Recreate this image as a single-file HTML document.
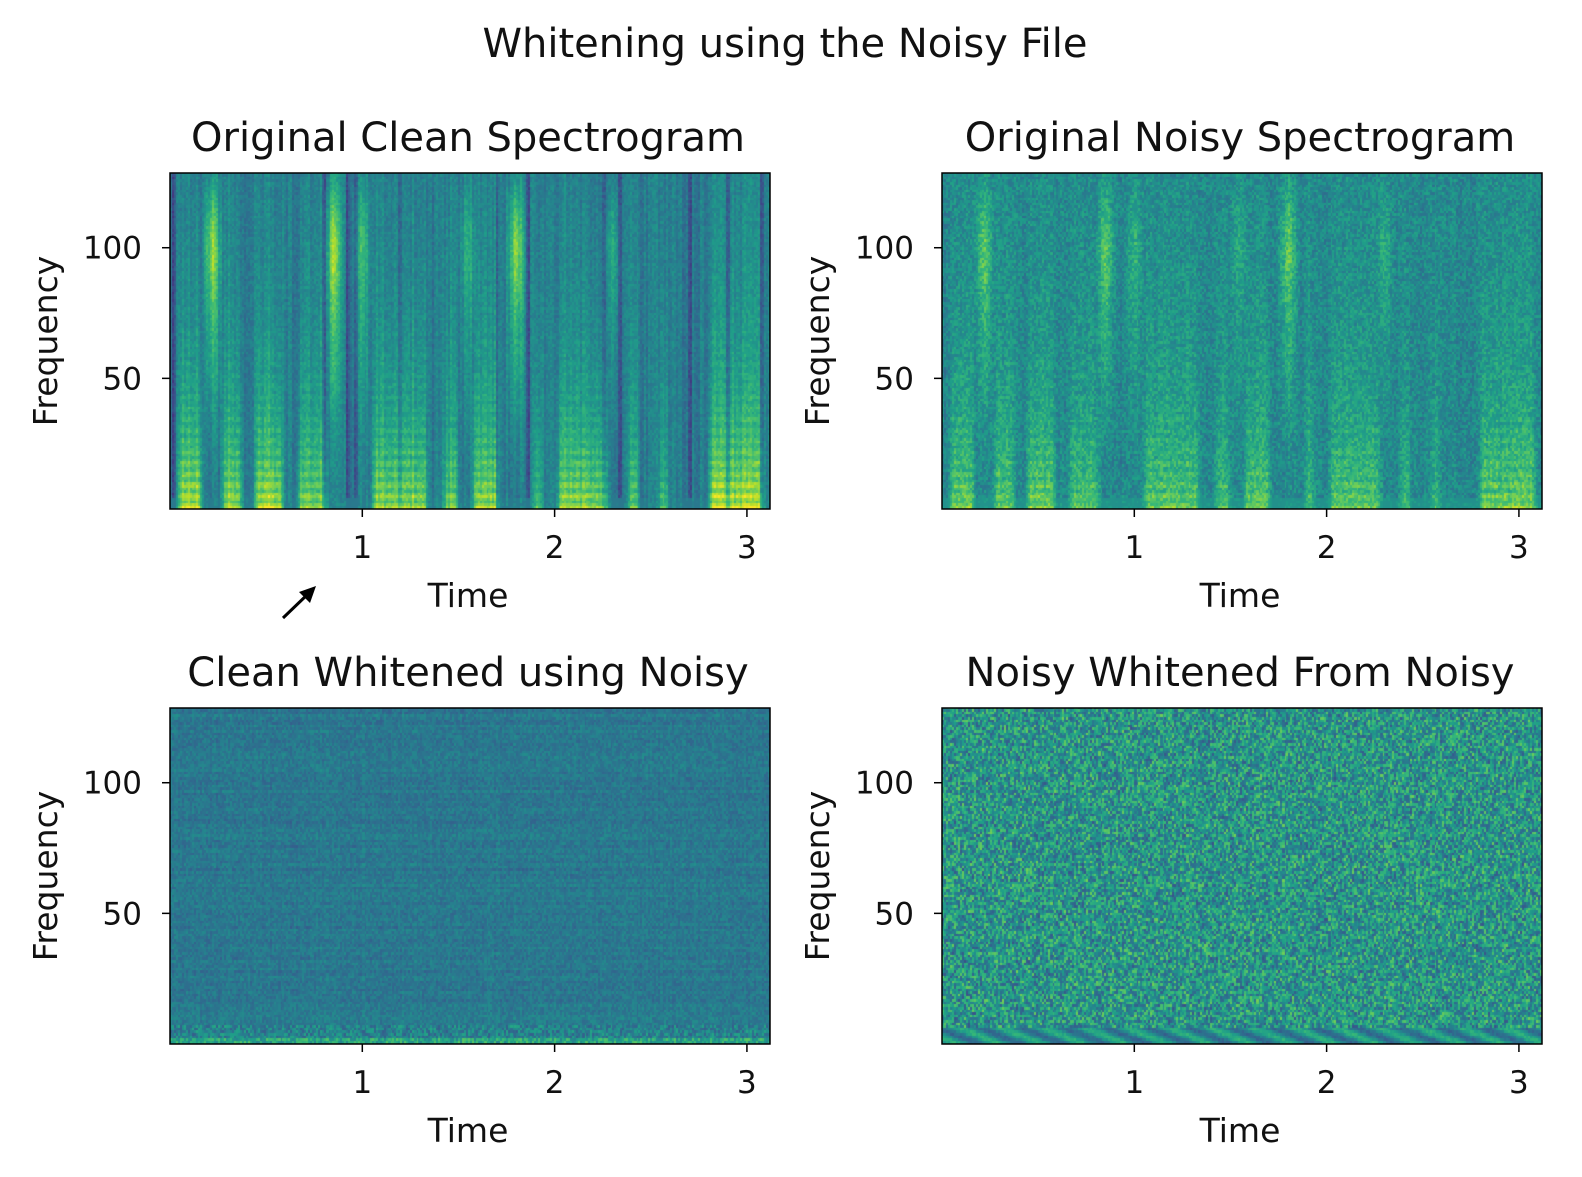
<!DOCTYPE html>
<html><head><meta charset="utf-8">
<style>
body{margin:0;background:#fff;width:1582px;height:1177px;overflow:hidden;font-family:"Liberation Sans","DejaVu Sans",sans-serif;}
#wrap{position:relative;width:1582px;height:1177px;}
canvas{position:absolute;}
svg{position:absolute;left:0;top:0;}
text{font-family:"DejaVu Sans","Liberation Sans",sans-serif;fill:#111;}
</style></head>
<body>
<div id="wrap">
<canvas id="c0" width="600" height="336" style="left:170px;top:173px"></canvas>
<canvas id="c1" width="600" height="336" style="left:942px;top:173px"></canvas>
<canvas id="c2" width="600" height="336" style="left:170px;top:708px"></canvas>
<canvas id="c3" width="600" height="336" style="left:942px;top:708px"></canvas>
<svg id="ov" width="1582" height="1177">
<text x="785" y="57" font-size="40" text-anchor="middle">Whitening using the Noisy File</text>
<g><line x1="283" y1="618" x2="309" y2="593" stroke="#000" stroke-width="3"/><polygon points="316,586 299,592 310,603" fill="#000"/></g>
</svg>
</div>
<script>
// data
const timeTicks=[1,2,3];
const freqTicks=[50,100];
const tMax=3.12, fMax=128.6;
const panelTitles=["Original Clean Spectrogram","Original Noisy Spectrogram","Clean Whitened using Noisy","Noisy Whitened From Noisy"];
const voicedStart=[0.03,0.26,0.43,0.65,1.04,1.41,1.56,1.88,2.0,2.37,2.53,2.79];
const voicedEnd=[0.18,0.39,0.60,0.83,1.35,1.51,1.72,1.95,2.29,2.45,2.60,3.10];
const voicedLevel=[0.8,0.7,0.8,0.65,0.7,0.6,0.7,0.55,0.7,0.55,0.55,0.8];
const burstTime=[0.22,0.85,1.80,1.0,2.3,1.55];
const burstLevel=[0.7,0.7,0.7,0.4,0.35,0.35];
const darkTime=[0.02,0.93,0.97,2.26,0.80,1.86,2.34,2.70,3.08,1.2,1.7,2.9];
const darkLevel=[0.2,0.18,0.2,0.2,0.2,0.2,0.2,0.2,0.2,0.18,0.18,0.18];

const VIR=[[68,1,84],[72,40,120],[62,74,137],[49,104,142],[38,130,142],[31,158,137],[53,183,121],[109,205,89],[180,222,44],[253,231,37]];
function vir(v){v=Math.max(0,Math.min(1,v))*9;const i=Math.min(8,Math.floor(v)),f=v-i;const a=VIR[i],b=VIR[i+1];return [a[0]+(b[0]-a[0])*f,a[1]+(b[1]-a[1])*f,a[2]+(b[2]-a[2])*f];}
function h(x,y,s){let n=(x*374761393+y*668265263+s*2147483647)|0;n=(n^(n>>>13))*1274126177|0;n=n^(n>>>16);return ((n>>>0)%10000)/10000;}
function colShade(t){let d=0;for(let i=0;i<darkTime.length;i++){const w=0.01;if(Math.abs(t-darkTime[i])<w)d=Math.max(d,darkLevel[i]);}return d;}
function speech(t,f){let v=0;
 for(let i=0;i<voicedStart.length;i++){const s=voicedStart[i],e=voicedEnd[i];if(t>=s&&t<=e){const lv=voicedLevel[i];
  const edge=Math.min(1,(t-s)/0.03,(e-t)/0.03);
  const fe=Math.exp(-f/32);const harm=0.5+0.5*Math.cos(2*Math.PI*f/4.2);
  v=Math.max(v,edge*(lv*(0.45*fe+0.4*fe*harm)+lv*0.3*Math.exp(-f/80)));}}
 for(let i=0;i<burstTime.length;i++){const d=Math.abs(t-burstTime[i]);if(d<0.06){const env=Math.exp(-Math.pow((f-100)/24,2))+0.5*Math.exp(-Math.pow((f-60)/30,2));v=Math.max(v,burstLevel[i]*env*(1-d/0.06));}}
 return v;}
function render(id,mode){const c=document.getElementById(id),ctx=c.getContext('2d');const W=600,H=336;const img=ctx.createImageData(W,H);
 const nt=300,nf=129;const vals=new Float32Array(nt*nf);
 for(let i=0;i<nt;i++){const t=(i+0.5)/nt*tMax;const cs=colShade(t);const colN=h(i,7,mode)-0.5;
  for(let j=0;j<nf;j++){const f=j;const r=h(i,j,mode+11)-0.5;let v;
   if(mode===0){v=0.42+colN*0.12-cs*0.9+speech(t,f)*0.6+r*0.12;if(f<4)v=Math.max(v,0.4+speech(t,15)*0.6);}
   else if(mode===1){v=0.47+colN*0.04+speech(t,f)*0.4+r*0.2-cs*0.08;if(f<4)v=Math.max(v,0.5+speech(t,15)*0.4);}
   else if(mode===2){const rowN=h(3,j,9)-0.5;v=0.4+r*0.14+rowN*0.06+colN*0.03;if(f<7)v=0.44+r*0.3+(f<2?0.15:0);}
   else {v=0.52+(h(i,j,mode+5)-0.5)*0.45+r*0.1;if(f<6)v=0.48+Math.sin(i*0.3+f)*0.15+r*0.1;}
   vals[i*nf+j]=v;}}
 for(let y=0;y<H;y++){const f=Math.min(nf-1,Math.floor((H-1-y)/H*fMax));for(let x=0;x<W;x++){const i=Math.floor(x/W*nt);const c3=vir(vals[i*nf+f]);const k=(y*W+x)*4;img.data[k]=c3[0];img.data[k+1]=c3[1];img.data[k+2]=c3[2];img.data[k+3]=255;}}
 ctx.putImageData(img,0,0);}
render('c0',0);render('c1',1);render('c2',2);render('c3',3);

const NS='http://www.w3.org/2000/svg';const ov=document.getElementById('ov');
const panels=[[170,173],[942,173],[170,708],[942,708]];const PW=600,PH=336;
function mk(tag,attrs,txt){const e=document.createElementNS(NS,tag);for(const k in attrs)e.setAttribute(k,attrs[k]);if(txt!==undefined)e.textContent=txt;ov.appendChild(e);return e;}
panels.forEach((p,pi)=>{const L=p[0],T=p[1];
 const xs=t=>L+t/tMax*PW, ys=f=>T+(fMax-f)/fMax*PH;
 const fr=mk('rect',{x:L,y:T,width:PW,height:PH,fill:'none',stroke:'#000','stroke-width':1.5});
 
 
 const tt=mk('text',{x:L+PW/2-2,y:T-22,'font-size':40,'text-anchor':'middle'},panelTitles[pi]);
 
 
 timeTicks.forEach(v=>{const x=xs(v);const l=mk('line',{x1:x,y1:T+PH,x2:x,y2:T+PH+8,stroke:'#000','stroke-width':1.5});
  
  
  const tx=mk('text',{x:x,y:T+PH+49,'font-size':31,'text-anchor':'middle'},String(v));
  
  });
 freqTicks.forEach(v=>{const y=ys(v);const l=mk('line',{x1:L-8,y1:y,x2:L,y2:y,stroke:'#000','stroke-width':1.5});
  
  
  const tx=mk('text',{x:L-28,y:y+11,'font-size':31,'text-anchor':'end'},String(v));
  
  });
 const xl=mk('text',{x:L+PW/2-2,y:T+PH+98,'font-size':33,'text-anchor':'middle'},'Time');
 
 
 const yl=mk('text',{x:0,y:0,'font-size':33,'text-anchor':'middle',transform:`translate(${L-113},${T+PH/2}) rotate(-90)`},'Frequency');
 
 
});
</script>
</body></html>
